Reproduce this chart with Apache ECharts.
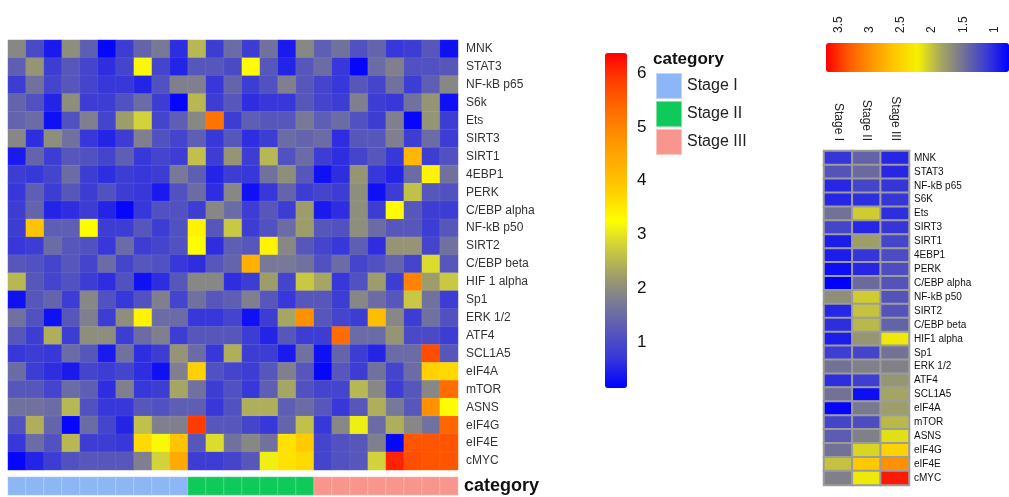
<!DOCTYPE html>
<html>
<head>
<meta charset="utf-8">
<script src="https://cdn.jsdelivr.net/npm/echarts@6/dist/echarts.min.js"></script>
<style>html,body{margin:0;padding:0;background:#fff}#c{width:1009px;height:497px}</style>
</head>
<body>
<div id="c"></div>
<script>
const genes = ['MNK','STAT3','NF-kB p65','S6k','Ets','SIRT3','SIRT1','4EBP1','PERK','C/EBP alpha','NF-kB p50','SIRT2','C/EBP beta','HIF 1 alpha','Sp1','ERK 1/2','ATF4','SCL1A5','eIF4A','mTOR','ASNS','eIF4G','eIF4E','cMYC'];
const genesRight = ['MNK','STAT3','NF-kB p65','S6K','Ets','SIRT3','SIRT1','4EBP1','PERK','C/EBP alpha','NF-kB p50','SIRT2','C/EBP beta','HIF1 alpha','Sp1','ERK 1/2','ATF4','SCL1A5','eIF4A','mTOR','ASNS','eIF4G','eIF4E','cMYC'];
const stages = ['Stage I','Stage II','Stage III'];
const sampleStage = ['Stage I','Stage I','Stage I','Stage I','Stage I','Stage I','Stage I','Stage I','Stage I','Stage I',
  'Stage II','Stage II','Stage II','Stage II','Stage II','Stage II','Stage II',
  'Stage III','Stage III','Stage III','Stage III','Stage III','Stage III','Stage III','Stage III'];
const sampleIds = sampleStage.map((s, i) => 'S' + (i + 1));
const stageColors = ['#8cb6f5', '#0fc95a', '#f8968d'];

// expression per gene (rows) x sample (columns)
const expr = [
  [1.9,1.0,0.4,2.0,1.3,0.2,0.8,1.4,1.7,0.6,2.5,0.8,1.5,0.8,1.6,0.4,1.9,1.3,1.6,1.1,1.4,0.7,0.8,1.2,0.3],
  [1.3,2.1,0.8,1.2,0.9,0.6,0.9,3.2,0.9,0.5,1.2,1.2,1.0,3.3,1.2,0.5,1.2,1.5,0.7,0.2,1.5,1.8,1.1,1.1,1.2],
  [0.8,1.6,0.9,1.2,0.9,0.7,0.7,0.5,1.1,1.8,1.8,0.7,1.4,0.8,1.1,1.8,1.2,0.9,0.7,1.2,0.9,1.6,0.8,1.3,1.9],
  [1.4,1.1,0.5,2.0,0.8,0.8,1.1,1.5,0.8,0.2,2.5,0.8,1.2,0.6,0.7,0.7,1.2,0.9,0.8,1.8,0.8,0.7,1.6,2.1,0.3],
  [1.4,1.5,0.3,1.1,1.8,0.9,2.2,2.8,0.9,1.3,1.9,5.2,0.8,1.3,1.2,1.2,1.7,1.3,1.5,1.1,0.8,1.8,0.2,2.1,0.8],
  [1.9,0.6,2.0,1.6,0.7,0.5,0.8,1.8,1.1,0.9,1.3,0.7,1.2,0.6,0.8,1.5,1.4,1.5,0.6,1.2,1.2,1.8,0.8,1.5,0.8],
  [0.4,1.4,0.8,1.2,1.1,0.9,1.3,0.7,0.9,0.8,2.6,0.8,2.1,0.8,2.5,1.1,1.5,0.8,0.6,0.9,1.2,0.7,4.2,0.8,1.1],
  [0.8,0.7,0.9,1.5,0.8,0.6,0.8,0.7,0.8,1.7,1.3,0.5,0.8,0.7,1.6,2.0,1.2,0.3,0.6,2.1,0.7,0.5,1.5,3.4,1.6],
  [0.7,1.3,0.8,1.2,0.8,1.1,0.8,0.7,0.4,1.1,1.5,0.6,1.9,0.3,0.7,1.4,0.8,0.9,0.8,2.0,0.3,0.8,2.6,1.2,1.1],
  [0.8,1.4,0.5,0.6,0.8,0.5,0.2,0.7,1.1,1.1,0.8,1.9,1.5,0.8,1.2,0.8,2.2,0.4,0.6,2.0,0.8,3.3,1.2,0.8,0.8],
  [0.8,4.0,1.3,1.3,3.3,0.8,0.8,1.2,0.8,1.1,3.4,1.2,2.7,0.8,1.1,1.5,2.2,1.2,1.1,2.0,1.5,1.2,1.2,0.8,1.2],
  [0.7,0.8,1.5,1.2,1.1,0.7,1.5,0.8,0.9,1.1,3.3,0.6,1.3,1.2,3.4,1.9,1.2,0.9,0.7,1.3,0.6,2.1,2.1,0.9,1.6],
  [1.2,1.1,0.9,1.2,0.9,1.5,0.9,1.2,1.1,0.7,0.6,1.2,1.4,4.3,1.7,1.7,1.6,1.1,1.5,0.9,1.1,1.4,0.9,2.9,1.2],
  [2.5,1.2,0.9,1.1,0.8,0.6,1.1,0.3,0.6,1.2,1.9,1.9,0.6,0.8,2.2,0.9,2.7,2.3,0.7,1.1,2.2,0.8,5.0,2.2,2.7],
  [0.3,1.2,1.4,0.8,1.9,1.1,0.7,1.1,1.8,0.9,1.6,1.2,1.3,1.8,1.2,0.7,1.2,1.2,0.8,1.9,1.5,1.2,2.7,1.6,0.8],
  [1.6,1.1,0.3,1.2,1.8,0.8,2.0,3.4,1.5,1.5,0.7,0.7,0.9,0.3,0.8,2.3,4.8,1.2,0.9,0.8,4.1,1.9,0.8,1.6,1.1],
  [1.2,0.8,2.4,0.8,2.0,2.0,0.8,1.5,1.8,0.8,1.2,1.2,1.2,0.8,0.5,1.2,0.8,0.8,5.3,1.5,1.5,2.1,1.0,1.0,0.8],
  [0.7,0.8,0.7,1.5,1.2,0.4,1.6,0.6,0.8,2.1,1.5,0.7,2.4,0.8,0.8,0.4,1.6,0.3,1.4,0.8,0.5,1.5,1.5,5.7,1.2],
  [1.5,0.8,0.6,0.4,0.9,0.8,0.9,0.6,0.3,1.8,3.8,1.1,0.9,0.8,1.2,1.8,1.2,0.2,1.2,0.8,1.6,0.9,1.5,3.8,3.7],
  [1.2,1.2,0.9,1.5,1.3,0.6,1.8,0.7,0.8,2.3,1.6,0.8,1.1,0.7,1.3,2.3,1.1,0.9,0.9,2.5,1.9,0.8,1.2,1.9,5.3],
  [1.6,1.6,1.5,2.5,1.1,0.7,0.7,1.2,1.1,1.3,1.3,0.7,1.1,2.4,2.4,1.3,1.5,1.2,0.7,1.2,2.4,1.7,1.2,4.8,3.3],
  [1.1,2.4,1.4,0.2,1.5,0.9,0.5,2.6,1.8,1.8,5.9,1.2,1.2,0.9,0.7,1.4,2.6,0.7,1.9,3.1,1.5,2.4,1.9,1.6,5.4],
  [0.7,1.5,1.1,2.5,0.8,0.8,0.7,3.7,3.2,4.0,1.2,2.9,1.6,1.9,1.6,3.6,3.9,0.9,1.1,1.2,1.8,0.2,5.6,5.6,5.6],
  [0.2,0.5,0.8,1.1,1.2,1.2,1.2,1.8,2.8,4.4,0.8,0.8,0.9,1.2,3.1,3.6,3.7,0.9,1.1,1.2,2.8,6.1,5.7,5.6,5.6]
];

// per-stage summary (rows) x [Stage I, Stage II, Stage III]
const stageMeans = [
  [1.1,1.4,1.0],[1.3,1.45,1.0],[1.0,1.2,1.1],[1.0,1.05,1.1],[1.5,2.05,1.05],[1.2,1.0,1.1],
  [0.95,1.8,1.2],[0.95,1.1,1.25],[0.85,1.0,1.25],[0.77,1.45,1.3],[1.7,2.05,1.3],[1.0,2.0,1.3],
  [1.05,1.95,1.4],[0.95,1.75,2.2],[1.15,1.2,1.5],[1.5,1.6,1.6],[1.05,1.15,1.75],[1.5,0.85,1.85],
  [0.8,1.55,1.8],[1.2,1.25,1.95],[1.35,1.6,2.15],[1.5,2.1,2.5],[2.0,2.6,3.0],[1.6,2.2,3.6]
];

const leftRange = [0.14, 6.38];
const rightRange = [0.77, 3.7];

const FF = 'Liberation Sans, Arial, Helvetica, sans-serif';
const leftColors = ['#0000ff','#3434dc','#5656bc','#787898','#9e9e6a','#cccc40','#ffff00','#ffd200','#ffb000','#ff9000','#ff6a00','#ff4000','#ff0000'];
const rightColors = ['#0000ff','#3c3cd4','#727296','#a8a860','#f5f000','#ffc800','#ff9600','#ff5a00','#ff0000'];

const heatData = [];
expr.forEach((row, r) => row.forEach((v, c) => heatData.push([c, r, v])));
const stageData = [];
stageMeans.forEach((row, r) => row.forEach((v, c) => stageData.push([c, r, v])));

const stripSeries = stages.map((s, k) => ({
  type: 'heatmap', name: s, xAxisIndex: 2, yAxisIndex: 2,
  data: sampleStage.map((st, i) => st === s ? [i, 0, 1] : null).filter(d => d),
  itemStyle: { color: stageColors[k], borderColor: 'rgba(255,255,255,0.45)', borderWidth: 0.6 },
  emphasis: { disabled: true }
}));

const chart = echarts.init(document.getElementById('c'), null, { renderer: 'canvas' });
chart.setOption({
  animation: false,
  backgroundColor: '#ffffff',
  textStyle: { fontFamily: FF },
  title: [{ text: 'category', left: 653, top: 51, padding: 0,
    textStyle: { fontSize: 17, fontWeight: 'bold', color: '#111', fontFamily: FF } }],
  legend: {
    orient: 'vertical', left: 655, top: 72, padding: 0, itemGap: 0,
    itemWidth: 26, itemHeight: 26, icon: 'rect', selectedMode: false,
    data: stages, textStyle: { fontSize: 16, color: '#222', fontFamily: FF }
  },
  grid: [
    { left: 8, top: 40, width: 450, height: 430 },
    { left: 824, top: 151, width: 85, height: 334 },
    { left: 8, top: 477, width: 450, height: 18 },
    { left: 605, top: 53, width: 22, height: 335 },
    { left: 826, top: 43, width: 183, height: 29 }
  ],
  xAxis: [
    { gridIndex: 0, type: 'category', data: sampleIds, show: false },
    { gridIndex: 1, type: 'category', data: stages, position: 'top',
      axisLine: { show: false }, axisTick: { show: false },
      axisLabel: { rotate: 90, margin: 10, fontSize: 12, color: '#222', fontFamily: FF } },
    { gridIndex: 2, type: 'category', data: sampleIds, show: false },
    { gridIndex: 3, type: 'value', min: 0, max: 1, show: false },
    { gridIndex: 4, type: 'value', position: 'top', min: rightRange[0], max: rightRange[1], inverse: true,
      splitNumber: 6, axisLine: { show: false }, axisTick: { show: false }, splitLine: { show: false },
      axisLabel: { rotate: 90, margin: 10, fontSize: 12, color: '#222', fontFamily: FF,
        showMinLabel: false, showMaxLabel: false } }
  ],
  yAxis: [
    { gridIndex: 0, type: 'category', data: genes, inverse: true, position: 'right',
      axisLine: { show: false }, axisTick: { show: false },
      axisLabel: { fontSize: 12, margin: 8, color: '#333', fontFamily: FF } },
    { gridIndex: 1, type: 'category', data: genesRight, inverse: true, position: 'right',
      axisLine: { show: false }, axisTick: { show: false },
      axisLabel: { fontSize: 10, margin: 5, color: '#111', fontFamily: FF } },
    { gridIndex: 2, type: 'category', data: ['category'], position: 'right',
      axisLine: { show: false }, axisTick: { show: false },
      axisLabel: { fontSize: 18, fontWeight: 'bold', margin: 6, color: '#111', fontFamily: FF } },
    { gridIndex: 3, type: 'value', position: 'right', min: leftRange[0], max: leftRange[1], splitNumber: 6,
      axisLine: { show: false }, axisTick: { show: false }, splitLine: { show: false },
      axisLabel: { fontSize: 17, margin: 10, color: '#111', fontFamily: FF,
        showMinLabel: false, showMaxLabel: false } },
    { gridIndex: 4, type: 'value', show: false }
  ],
  visualMap: [
    { type: 'continuous', seriesIndex: 0, min: leftRange[0], max: leftRange[1],
      orient: 'vertical', left: 605, top: 53, itemWidth: 22, itemHeight: 335, padding: 0,
      calculable: false, hoverLink: false, text: null, inRange: { color: leftColors } },
    { type: 'continuous', seriesIndex: 1, min: rightRange[0], max: rightRange[1],
      orient: 'horizontal', inverse: true, left: 826, top: 43, itemWidth: 29, itemHeight: 183, padding: 0,
      calculable: false, hoverLink: false, text: null, inRange: { color: rightColors } }
  ],
  series: [
    { type: 'heatmap', xAxisIndex: 0, yAxisIndex: 0, data: heatData,
      itemStyle: { borderColor: 'rgba(255,255,255,0.12)', borderWidth: 0.6 },
      emphasis: { disabled: true } },
    { type: 'heatmap', xAxisIndex: 1, yAxisIndex: 1, data: stageData,
      itemStyle: { borderColor: '#9c9c9c', borderWidth: 2 },
      emphasis: { disabled: true } }
  ].concat(stripSeries)
});
</script>
</body>
</html>
